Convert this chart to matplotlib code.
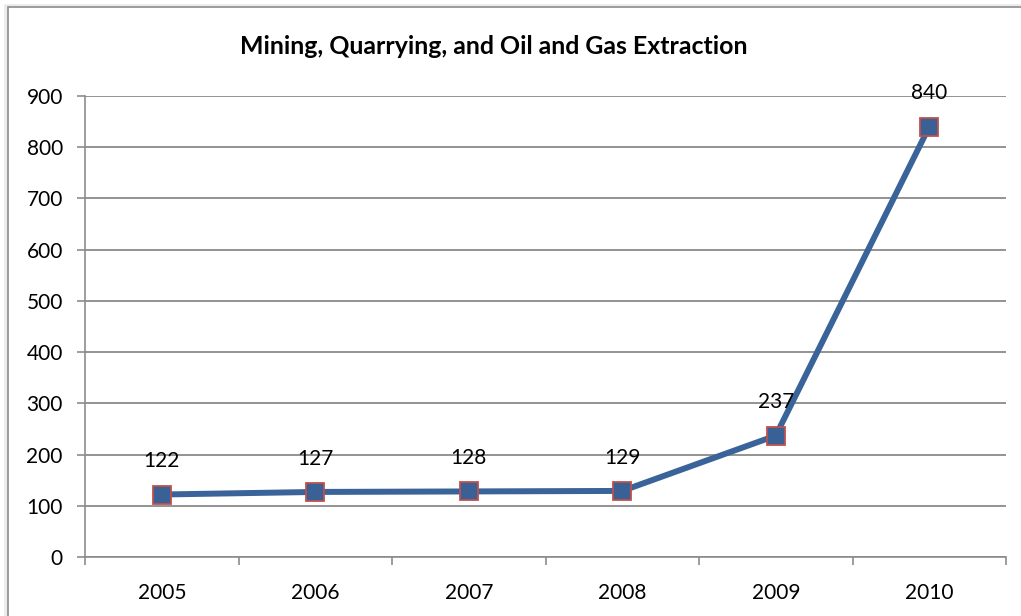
import matplotlib.pyplot as plt
from matplotlib.patches import Rectangle

years = ['2005', '2006', '2007', '2008', '2009', '2010']
values = [122, 127, 128, 129, 237, 840]
yticks = [0, 100, 200, 300, 400, 500, 600, 700, 800, 900]

plt.rcParams['font.family'] = ['Lato', 'DejaVu Sans']

fig = plt.figure(figsize=(10.21, 6.16), dpi=100)

# outer chart frame (Excel style), runs off the right and bottom edges
W, H = 1021, 616
fig.patches.append(Rectangle((4 / W, -0.1), 2, 1 - 4 / H + 0.1, transform=fig.transFigure,
                             facecolor='#ececec', edgecolor='none', zorder=-3))
fig.patches.append(Rectangle((8 / W, -0.1), 2, 1 - 7 / H + 0.1, transform=fig.transFigure,
                             facecolor='white', edgecolor='#8c8c8c', linewidth=1.2, zorder=-2))

ax = fig.add_axes([85 / W, 1 - 557 / H, (1006 - 85) / W, (557 - 96) / H])
ax.set_facecolor('none')

x = list(range(len(years)))
ax.plot(x, values, color='#3a6499', linewidth=4.3, marker='s', markersize=13,
        markerfacecolor='#3a6195', markeredgecolor='#c0504d', markeredgewidth=1.3,
        zorder=3, solid_joinstyle='round')

for xi, v in zip(x, values):
    ax.annotate(str(v), (xi, v), xytext=(0, 24), textcoords='offset points',
                ha='center', va='center', fontsize=15, color='black', zorder=4)

ax.set_xlim(-0.5, len(years) - 0.5)
ax.set_ylim(0, 900)
ax.set_yticks(yticks)
ax.set_xticks(x)
ax.set_xticklabels(years)
ax.set_xticks([i - 0.5 for i in range(len(years) + 1)], minor=True)

ax.grid(axis='y', color='#8a8a8a', linewidth=1.3, zorder=0)
ax.tick_params(axis='y', length=6, width=1.2, color='#8c8c8c', labelsize=15, pad=10)
ax.tick_params(axis='x', which='major', length=0, labelsize=15, pad=19)
ax.tick_params(axis='x', which='minor', length=6, width=1.2, color='#8c8c8c')

for s in ['top', 'right']:
    ax.spines[s].set_visible(False)
for s in ['left', 'bottom']:
    ax.spines[s].set_color('#8c8c8c')
    ax.spines[s].set_linewidth(1.2)

fig.text(494 / W, 1 - 47 / H, 'Mining, Quarrying, and Oil and Gas Extraction',
         ha='center', va='center', fontsize=17.9, fontweight='bold')

fig.savefig('out.png', dpi=100)
